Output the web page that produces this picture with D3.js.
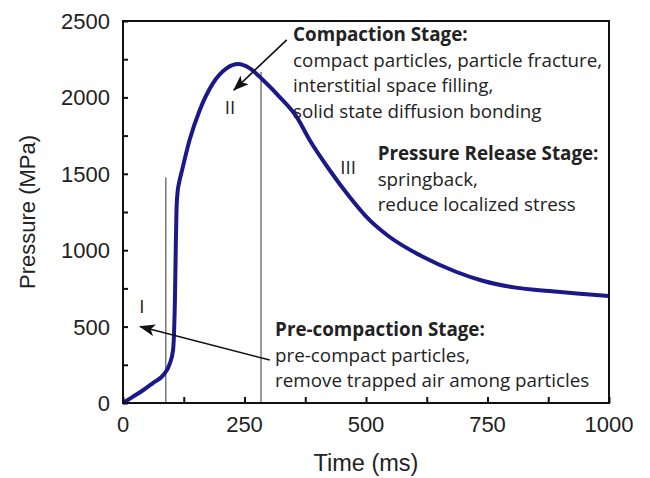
<!DOCTYPE html>
<html>
<head>
<meta charset="utf-8">
<script src="https://cdn.jsdelivr.net/npm/d3@7"></script>
<style>
  body { margin: 0; background: #fff; }
  .axis-text { font-family: "Liberation Sans", Arial, sans-serif; fill: #222; }
  .note { font-family: "Open Sans", sans-serif; font-size: 18.8px; fill: #222; }
  .note-bold { font-weight: bold; }
</style>
</head>
<body>
<div id="chart"></div>
<script>
// pressure curve
var time_ms = [0, 20, 42, 62, 83, 96, 103, 105, 107, 108.5, 110, 112, 116, 120, 137, 158, 185, 213, 237, 261, 288, 322, 357, 384, 425, 466, 507, 548, 617, 685, 740, 808, 877, 940, 1000];
var pressure = [0, 40, 85, 132, 183, 255, 347, 458, 700, 1000, 1250, 1370, 1450, 1503, 1721, 1918, 2092, 2190, 2218, 2190, 2114, 2004, 1874, 1721, 1525, 1350, 1198, 1088, 957, 859, 800, 755, 733, 715, 700];

var x_ticks = [0, 250, 500, 750, 1000];
var x_minor = d3.range(0, 1001, 125);
var y_ticks = [0, 500, 1000, 1500, 2000, 2500];
var y_minor = d3.range(0, 2501, 250);

// stage boundaries: [time, top pressure]
var stage_lines = [[88, 1475], [284, 2167]];
var stage_labels = [
    { text: "I", t: 39, p: 635 },
    { text: "II", t: 220, p: 1937 },
    { text: "III", t: 463, p: 1545 }
];
// arrows: from text to stage [t0, p0, t1, p1]
var arrows = [[337, 2376, 228, 2048], [302, 281, 35, 500]];
var notes = [
    { t: 350, p: 2369, lines: ["Compaction Stage:", "compact particles, particle fracture,", "interstitial space filling,", "solid state diffusion bonding"] },
    { t: 524, p: 1590, lines: ["Pressure Release Stage:", "springback,", "reduce localized stress"] },
    { t: 313, p: 438, lines: ["Pre-compaction Stage:", "pre-compact particles,", "remove trapped air among particles"] }
];

const W = 650, H = 478;
const margin = { top: 21, right: 41, bottom: 75, left: 123 };
const width = W - margin.left - margin.right,
    height = H - margin.top - margin.bottom;

const svg = d3.select("#chart").append("svg")
    .attr("width", W).attr("height", H);

const g = svg.append("g")
    .attr("transform", "translate(" + margin.left + "," + margin.top + ")");

var x = d3.scaleLinear().domain([0, 1000]).range([0, width]);
var y = d3.scaleLinear().domain([0, 2500]).range([height, 0]);

// arrow head
svg.append("defs").append("marker")
    .attr("id", "head")
    .attr("viewBox", "0 0 16 12")
    .attr("refX", 15).attr("refY", 6)
    .attr("markerWidth", 16).attr("markerHeight", 12)
    .attr("markerUnits", "userSpaceOnUse")
    .attr("orient", "auto")
    .append("path")
    .attr("d", "M0,0 L16,6 L0,12 L4,6 Z")
    .attr("fill", "#111");

// stage boundary lines
g.selectAll(".stage-line")
    .data(stage_lines)
    .join("line")
    .attr("x1", d => x(d[0])).attr("x2", d => x(d[0]))
    .attr("y1", y(0)).attr("y2", d => y(d[1]))
    .attr("stroke", "#777").attr("stroke-width", 1.5);

// curve
var line = d3.line()
    .x((d, i) => x(time_ms[i]))
    .y(d => y(d))
    .curve(d3.curveMonotoneX);

g.append("path")
    .datum(pressure)
    .attr("d", line)
    .attr("fill", "none")
    .attr("stroke", "#1b188a")
    .attr("stroke-width", 4)
    .attr("stroke-linejoin", "round");

// frame
g.append("rect")
    .attr("width", width).attr("height", height)
    .attr("fill", "none").attr("stroke", "#111").attr("stroke-width", 2);

// axes (ticks inside)
g.append("g")
    .attr("transform", "translate(0," + height + ")")
    .call(d3.axisBottom(x).tickValues(x_minor).tickSize(-6).tickFormat(""))
    .call(a => a.select(".domain").remove())
    .call(a => a.selectAll("line").attr("stroke", "#111").attr("stroke-width", 2));

g.append("g")
    .call(d3.axisLeft(y).tickValues(y_minor).tickSize(-5).tickFormat(""))
    .call(a => a.select(".domain").remove())
    .call(a => a.selectAll("line").attr("stroke", "#111").attr("stroke-width", 2));

g.selectAll(".xlab")
    .data(x_ticks)
    .join("text")
    .attr("class", "axis-text")
    .attr("x", d => x(d))
    .attr("y", height + 29)
    .attr("text-anchor", "middle")
    .attr("font-size", 22)
    .text(d => d);

g.selectAll(".ylab")
    .data(y_ticks)
    .join("text")
    .attr("class", "axis-text")
    .attr("x", -13)
    .attr("y", d => y(d))
    .attr("dy", "0.36em")
    .attr("text-anchor", "end")
    .attr("font-size", 22)
    .text(d => d);

svg.append("text")
    .attr("class", "axis-text")
    .attr("x", margin.left + width / 2)
    .attr("y", 471)
    .attr("text-anchor", "middle")
    .attr("font-size", 23.5)
    .text("Time (ms)");

svg.append("text")
    .attr("class", "axis-text")
    .attr("transform", "translate(35," + (margin.top + height / 2) + ") rotate(-90)")
    .attr("text-anchor", "middle")
    .attr("font-size", 22)
    .text("Pressure (MPa)");

// stage numerals
g.selectAll(".stage-label")
    .data(stage_labels)
    .join("text")
    .attr("class", "note")
    .attr("x", d => x(d.t)).attr("y", d => y(d.p))
    .attr("dy", "0.36em")
    .attr("text-anchor", "middle")
    .attr("font-size", 21)
    .text(d => d.text);

// arrows
g.selectAll(".arrow")
    .data(arrows)
    .join("line")
    .attr("x1", d => x(d[0])).attr("y1", d => y(d[1]))
    .attr("x2", d => x(d[2])).attr("y2", d => y(d[3]))
    .attr("stroke", "#111").attr("stroke-width", 1.6)
    .attr("marker-end", "url(#head)");

// notes
notes.forEach(n => {
    var t = g.append("text").attr("class", "note")
        .attr("x", x(n.t)).attr("y", y(n.p));
    n.lines.forEach((l, i) => {
        t.append("tspan")
            .attr("x", x(n.t))
            .attr("dy", i == 0 ? 0 : 25.5)
            .attr("class", i == 0 ? "note-bold" : null)
            .text(l);
    });
});
</script>
</body>
</html>
